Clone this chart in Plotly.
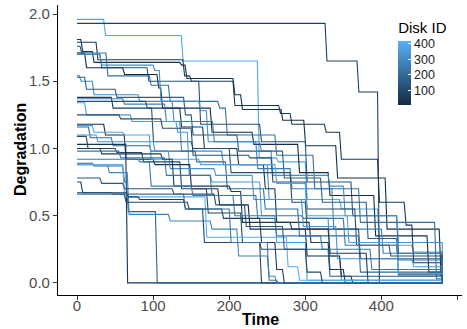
import plotly.graph_objects as go
from plotly.colors import sample_colorscale

# ---- data ----
disk_ids = [390, 75, 20, 45, 130, 10, 220, 310, 300, 160, 50, 260, 120, 350,
            110, 15, 200, 370, 330, 90, 55, 240, 35, 250, 180, 280, 410, 140,
            60, 100, 230]
start_levels = [1.96, 1.93, 1.81, 1.79, 1.76, 1.71, 1.71, 1.70, 1.54, 1.53,
                1.38, 1.37, 1.35, 1.34, 1.25, 1.18, 1.16, 1.17, 1.10, 1.09,
                1.00, 0.98, 1.03, 0.92, 0.89, 0.88, 0.88, 0.78, 0.75, 0.67,
                0.66]
drop_times = [
    [35, 137, 237, 262, 300, 345, 395, 440, 480],
    [326, 368, 395],
    [5, 20, 135, 142, 205, 215, 268, 298, 340, 405, 476, 480],
    [25, 139, 148, 205, 265, 280, 325, 345, 395, 430, 440, 478],
    [4, 30, 92, 160, 240, 300, 360, 420, 480],
    [10, 60, 105, 110, 175, 230, 290, 330, 390, 460, 480],
    [38, 95, 120, 185, 195, 260, 310, 370, 470, 480],
    [30, 100, 108, 160, 170, 240, 255, 330, 350, 420, 480],
    [3, 20, 80, 125, 135, 190, 250, 300, 330, 345],
    [10, 50, 140, 150, 210, 270, 320, 380, 420, 480],
    [45, 135, 165, 210, 245, 260, 305, 330, 350],
    [60, 115, 178, 235, 280, 335, 400, 480],
    [90, 98, 150, 200, 280, 300, 370, 480],
    [10, 70, 130, 145, 175, 240, 260, 300],
    [55, 110, 150, 225, 255, 300, 365, 410, 480],
    [35, 62, 100, 148, 185, 225, 300, 345, 360],
    [15, 45, 95, 155, 195, 245, 290, 370, 480],
    [20, 60, 95, 160, 260, 300, 355, 420, 480],
    [25, 100, 120, 180, 230, 295, 340, 440, 480],
    [12, 50, 85, 135, 170, 215, 240],
    [30, 110, 125, 200, 215, 280, 330, 380],
    [55, 115, 175, 235, 260, 320, 385, 480],
    [64],
    [80, 95, 150, 205, 295, 350, 420, 480],
    [20, 60, 65, 103],
    [40, 66, 120, 175, 210, 250, 260],
    [60, 168, 275, 290, 480],
    [30, 60, 125, 180, 220, 270, 330, 480],
    [5, 65, 80, 140, 190, 240, 260, 270],
    [45, 62, 145, 165, 240, 300, 320],
    [140, 200, 250, 262],
]
drop_levels = [
    [1.84, 1.65, 0.93, 0.90, 0.62, 0.55, 0.28, 0.23, 0.0],
    [1.65, 1.42, 0.0],
    [1.72, 1.64, 1.62, 1.52, 1.40, 1.29, 1.21, 1.02, 0.78, 0.40, 0.05, 0.0],
    [1.66, 1.54, 1.50, 1.32, 1.26, 1.18, 1.12, 0.92, 0.60, 0.43, 0.15, 0.0],
    [1.70, 1.60, 1.50, 1.18, 1.05, 0.75, 0.50, 0.22, 0.0],
    [1.60, 1.55, 1.45, 1.30, 1.12, 1.03, 0.82, 0.65, 0.35, 0.08, 0.0],
    [1.54, 1.47, 1.35, 1.30, 1.10, 0.95, 0.70, 0.45, 0.03, 0.0],
    [1.62, 1.58, 1.35, 1.28, 1.05, 0.98, 0.80, 0.72, 0.50, 0.30, 0.0],
    [1.50, 1.40, 1.35, 1.20, 0.98, 0.88, 0.62, 0.48, 0.20, 0.02],
    [1.44, 1.38, 1.25, 1.10, 0.98, 0.78, 0.60, 0.33, 0.06, 0.0],
    [1.30, 1.16, 1.00, 0.88, 0.70, 0.45, 0.30, 0.10, 0.0],
    [1.33, 1.20, 1.05, 0.85, 0.70, 0.40, 0.22, 0.0],
    [1.30, 1.05, 1.00, 0.82, 0.60, 0.40, 0.18, 0.0],
    [1.25, 1.20, 1.12, 0.80, 0.75, 0.50, 0.30, 0.02],
    [1.22, 1.15, 0.95, 0.93, 0.75, 0.55, 0.28, 0.20, 0.0],
    [1.10, 0.92, 0.88, 0.70, 0.58, 0.40, 0.20, 0.05, 0.0],
    [1.08, 1.02, 0.98, 0.90, 0.70, 0.55, 0.35, 0.08, 0.0],
    [1.12, 1.10, 0.92, 0.88, 0.74, 0.50, 0.30, 0.07, 0.0],
    [1.05, 0.98, 0.85, 0.80, 0.62, 0.42, 0.18, 0.12, 0.0],
    [1.00, 0.97, 0.90, 0.70, 0.52, 0.30, 0.0],
    [0.96, 0.92, 0.72, 0.68, 0.45, 0.40, 0.22, 0.0],
    [0.93, 0.80, 0.65, 0.48, 0.35, 0.25, 0.10, 0.0],
    [0.0],
    [0.90, 0.72, 0.65, 0.50, 0.48, 0.28, 0.17, 0.0],
    [0.87, 0.75, 0.53, 0.0],
    [0.82, 0.51, 0.46, 0.40, 0.20, 0.05, 0.0],
    [0.64, 0.34, 0.12, 0.02, 0.0],
    [0.74, 0.70, 0.66, 0.58, 0.42, 0.25, 0.05, 0.0],
    [0.67, 0.64, 0.62, 0.55, 0.48, 0.30, 0.10, 0.0],
    [0.66, 0.60, 0.55, 0.30, 0.25, 0.08, 0.0],
    [0.55, 0.30, 0.02, 0.0],
]
end_time = 480
id_min, id_max = 6, 419
colorscale = [[0.0, "#132B43"], [1.0, "#56B1F7"]]
x_title = "Time"
y_title = "Degradation"
legend_title = "Disk ID"

# ---- figure ----
fig = go.Figure()
edge = 2.5
for did, v0, ts, vs in zip(disk_ids, start_levels, drop_times, drop_levels):
    xs, ys = [0], [v0]
    prev = v0
    for t, v in zip(ts, vs):
        xs += [t, min(t + edge, end_time)]
        ys += [prev, v]
        prev = v
    if xs[-1] < end_time:
        xs.append(end_time)
        ys.append(prev)
    col = sample_colorscale(colorscale, (did - id_min) / (id_max - id_min))[0]
    fig.add_trace(go.Scatter(x=xs, y=ys, mode="lines",
                             line=dict(color=col, width=1.1),
                             showlegend=False, hoverinfo="skip"))

fig.add_trace(go.Scatter(
    x=[None, None], y=[None, None], mode="markers", showlegend=False,
    marker=dict(color=[id_min, id_max], colorscale=colorscale,
                cmin=id_min, cmax=id_max, showscale=True,
                colorbar=dict(
                    title=dict(text=legend_title, side="top",
                               font=dict(size=15, color="#000000")),
                    x=0.842, xanchor="left", y=0.952, yanchor="top",
                    len=86, lenmode="pixels", thickness=13,
                    thicknessmode="pixels", outlinewidth=0,
                    tickvals=[100, 200, 300, 400], ticks="inside",
                    ticklen=3, tickcolor="#ffffff",
                    tickfont=dict(size=12.5, color="#1a1a1a"),
                    xpad=0, ypad=0))))

font_family = "Liberation Sans, Arial, sans-serif"
fig.update_layout(
    width=467, height=329,
    margin=dict(l=58, r=5, t=5, b=34),
    paper_bgcolor="white", plot_bgcolor="white",
    font=dict(family=font_family),
    showlegend=False,
    annotations=[
        dict(text="<b>%s</b>" % x_title, xref="paper", yref="paper",
             x=0.502, y=-0.086, xanchor="center", yanchor="middle",
             showarrow=False, font=dict(size=16, color="#000000")),
        dict(text="<b>%s</b>" % y_title, xref="paper", yref="paper",
             x=-0.094, y=0.5, xanchor="center", yanchor="middle",
             textangle=-90, showarrow=False,
             font=dict(size=16, color="#000000")),
    ],
)
fig.update_xaxes(
    range=[-25, 506], tickvals=[0, 100, 200, 300, 400, 500],
    automargin=False, ticklabelstandoff=-7,
    showgrid=False, zeroline=False, showline=True, linecolor="#000000",
    linewidth=1.1, ticks="outside", ticklen=4, tickcolor="#333333",
    tickfont=dict(size=15, color="#4D4D4D"))
fig.update_yaxes(
    range=[-0.09, 2.067], tickvals=[0, 0.5, 1.0, 1.5, 2.0], tickformat=".1f",
    automargin=False,
    showgrid=False, zeroline=False, showline=True, linecolor="#000000",
    linewidth=1.1, ticks="outside", ticklen=4, tickcolor="#333333",
    tickfont=dict(size=15, color="#4D4D4D"))

fig.write_html("out.html")
